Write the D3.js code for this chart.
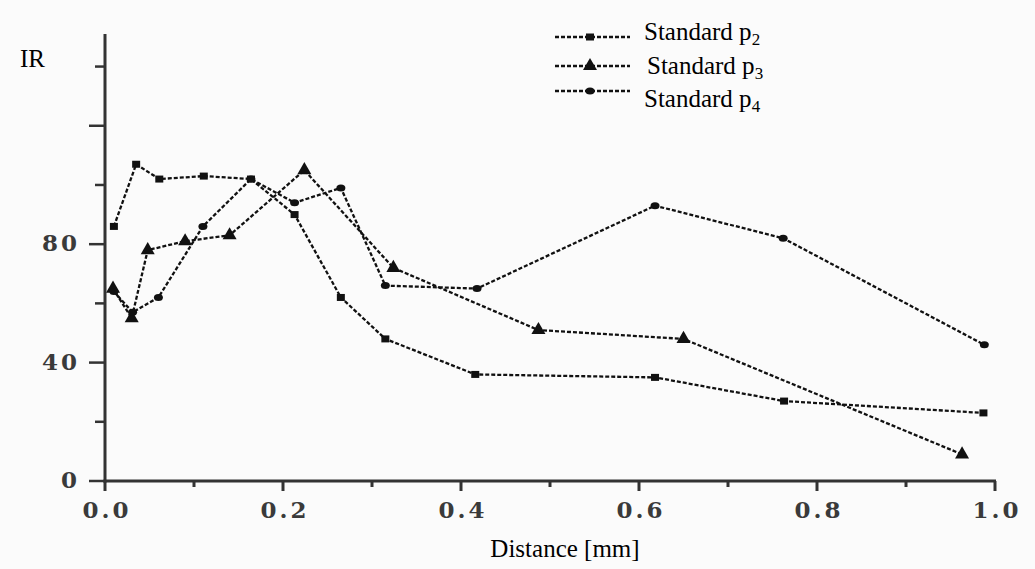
<!DOCTYPE html>
<html>
<head>
<meta charset="utf-8">
<script src="https://cdn.jsdelivr.net/npm/d3@7/dist/d3.min.js"></script>
<style>
  html, body { margin: 0; padding: 0; background: #fbfbfb; }
  svg { display: block; }
</style>
</head>
<body>
<svg id="chart" width="1035" height="569"></svg>
<script>
// ---- data ----
const seriesNames = ["Standard p", "Standard p", "Standard p"];
const seriesSubs = ["2", "3", "4"];
const seriesMarkers = ["square", "triangle", "dot"];

const p2X = [0.010, 0.035, 0.061, 0.111, 0.164, 0.213, 0.265, 0.315, 0.416, 0.618, 0.763, 0.987];
const p2Y = [86, 107, 102, 103, 102, 90, 62, 48, 36, 35, 27, 23];

const p3X = [0.009, 0.030, 0.048, 0.090, 0.140, 0.224, 0.324, 0.487, 0.650, 0.963];
const p3Y = [65, 55, 78, 81, 83, 105, 72, 51, 48, 9];

const p4X = [0.010, 0.031, 0.060, 0.110, 0.164, 0.213, 0.265, 0.315, 0.418, 0.618, 0.762, 0.988];
const p4Y = [64, 57, 62, 86, 102, 94, 99, 66, 65, 93, 82, 46];

const xTicks = [0.0, 0.1, 0.2, 0.3, 0.4, 0.5, 0.6, 0.7, 0.8, 0.9, 1.0];
const xTickLabels = ["0.0", "", "0.2", "", "0.4", "", "0.6", "", "0.8", "", "1.0"];
const yTicks = [0, 20, 40, 60, 80, 100, 120, 140];
const yTickLabels = ["0", "", "40", "", "80", "", "", ""];

const xTitle = "Distance [mm]";
const yTitle = "IR";

// ---- drawing ----
const svg = d3.select("#chart");
const x = d3.scaleLinear().domain([0, 1]).range([105, 995]);
const y = d3.scaleLinear().domain([0, 151]).range([481, 34]);

const axisColor = "#333";
const lineColor = "#111";
const serif = "'Liberation Serif', 'Times New Roman', Times, serif";

const series = [
  { xs: p2X, ys: p2Y, marker: seriesMarkers[0] },
  { xs: p3X, ys: p3Y, marker: seriesMarkers[1] },
  { xs: p4X, ys: p4Y, marker: seriesMarkers[2] }
];

const line = d3.line().x(d => x(d[0])).y(d => y(d[1]));

const plot = svg.append("g");
series.forEach(s => {
  const pts = s.xs.map((v, i) => [v, s.ys[i]]);
  plot.append("path")
    .attr("d", line(pts))
    .attr("fill", "none")
    .attr("stroke", lineColor)
    .attr("stroke-width", 2.3)
    .attr("stroke-dasharray", "4,2");
});

function drawMarker(g, type, cx, cy) {
  if (type === "square") {
    g.append("rect").attr("x", cx - 4).attr("y", cy - 3.5).attr("width", 8).attr("height", 7).attr("fill", lineColor);
  } else if (type === "triangle") {
    g.append("path").attr("d", d3.symbol().type(d3.symbolTriangle).size(85)()).attr("transform", `translate(${cx},${cy})`).attr("fill", lineColor);
  } else {
    g.append("ellipse").attr("cx", cx).attr("cy", cy).attr("rx", 4.5).attr("ry", 3.5).attr("fill", lineColor);
  }
}

series.forEach(s => {
  s.xs.forEach((v, i) => drawMarker(plot, s.marker, x(v), y(s.ys[i])));
});

// axes
const xAxis = svg.append("g");
xAxis.append("line").attr("x1", x(0) - 1.5).attr("x2", x(1) + 1).attr("y1", y(0)).attr("y2", y(0))
  .attr("stroke", axisColor).attr("stroke-width", 3);
xTicks.forEach((t, i) => {
  const major = xTickLabels[i] !== "";
  xAxis.append("line").attr("x1", x(t)).attr("x2", x(t)).attr("y1", y(0)).attr("y2", y(0) + (major ? 10 : 6))
    .attr("stroke", axisColor).attr("stroke-width", 3);
  if (major) {
    xAxis.append("text").attr("x", x(t) + 2).attr("y", 518)
      .attr("text-anchor", "middle")
      .attr("font-family", "DejaVu Serif").attr("font-weight", "bold").attr("font-size", 23)
      .attr("letter-spacing", 3)
      .attr("fill", "#3a3a3a").text(xTickLabels[i]);
  }
});

const yAxis = svg.append("g");
yAxis.append("line").attr("x1", x(0)).attr("x2", x(0)).attr("y1", y(151)).attr("y2", y(0) + 1.5)
  .attr("stroke", axisColor).attr("stroke-width", 3);
yTicks.forEach((t, i) => {
  const major = (t % 40 === 0);
  yAxis.append("line").attr("x1", x(0) - (major ? 16 : 10)).attr("x2", x(0)).attr("y1", y(t)).attr("y2", y(t))
    .attr("stroke", axisColor).attr("stroke-width", 2.5);
  if (yTickLabels[i] !== "") {
    yAxis.append("text").attr("x", 80).attr("y", y(t) + 7)
      .attr("text-anchor", "end")
      .attr("font-family", "DejaVu Serif").attr("font-weight", "bold").attr("font-size", 23)
      .attr("letter-spacing", 3)
      .attr("fill", "#3a3a3a").text(yTickLabels[i]);
  }
});

// titles
svg.append("text").attr("x", 565).attr("y", 557).attr("text-anchor", "middle")
  .attr("font-family", serif).attr("font-size", 25).attr("fill", "#000").text(xTitle);
svg.append("text").attr("x", 20).attr("y", 67)
  .attr("font-family", serif).attr("font-size", 25).attr("fill", "#000").text(yTitle);

// legend
const legendLineY = [37, 66, 91];
const legendTextX = [644, 647, 644];
const legendTextY = [40, 74, 107];
const legend = svg.append("g");
series.forEach((s, i) => {
  legend.append("line").attr("x1", 555).attr("x2", 630).attr("y1", legendLineY[i]).attr("y2", legendLineY[i])
    .attr("stroke", lineColor).attr("stroke-width", 2.3).attr("stroke-dasharray", "4,2");
  drawMarker(legend, s.marker, 590, legendLineY[i]);
  const t = legend.append("text").attr("x", legendTextX[i]).attr("y", legendTextY[i])
    .attr("font-family", serif).attr("font-size", 25).attr("fill", "#000");
  t.append("tspan").text(seriesNames[i]);
  t.append("tspan").attr("font-size", 17).attr("dy", 5).text(seriesSubs[i]);
});
</script>
</body>
</html>
